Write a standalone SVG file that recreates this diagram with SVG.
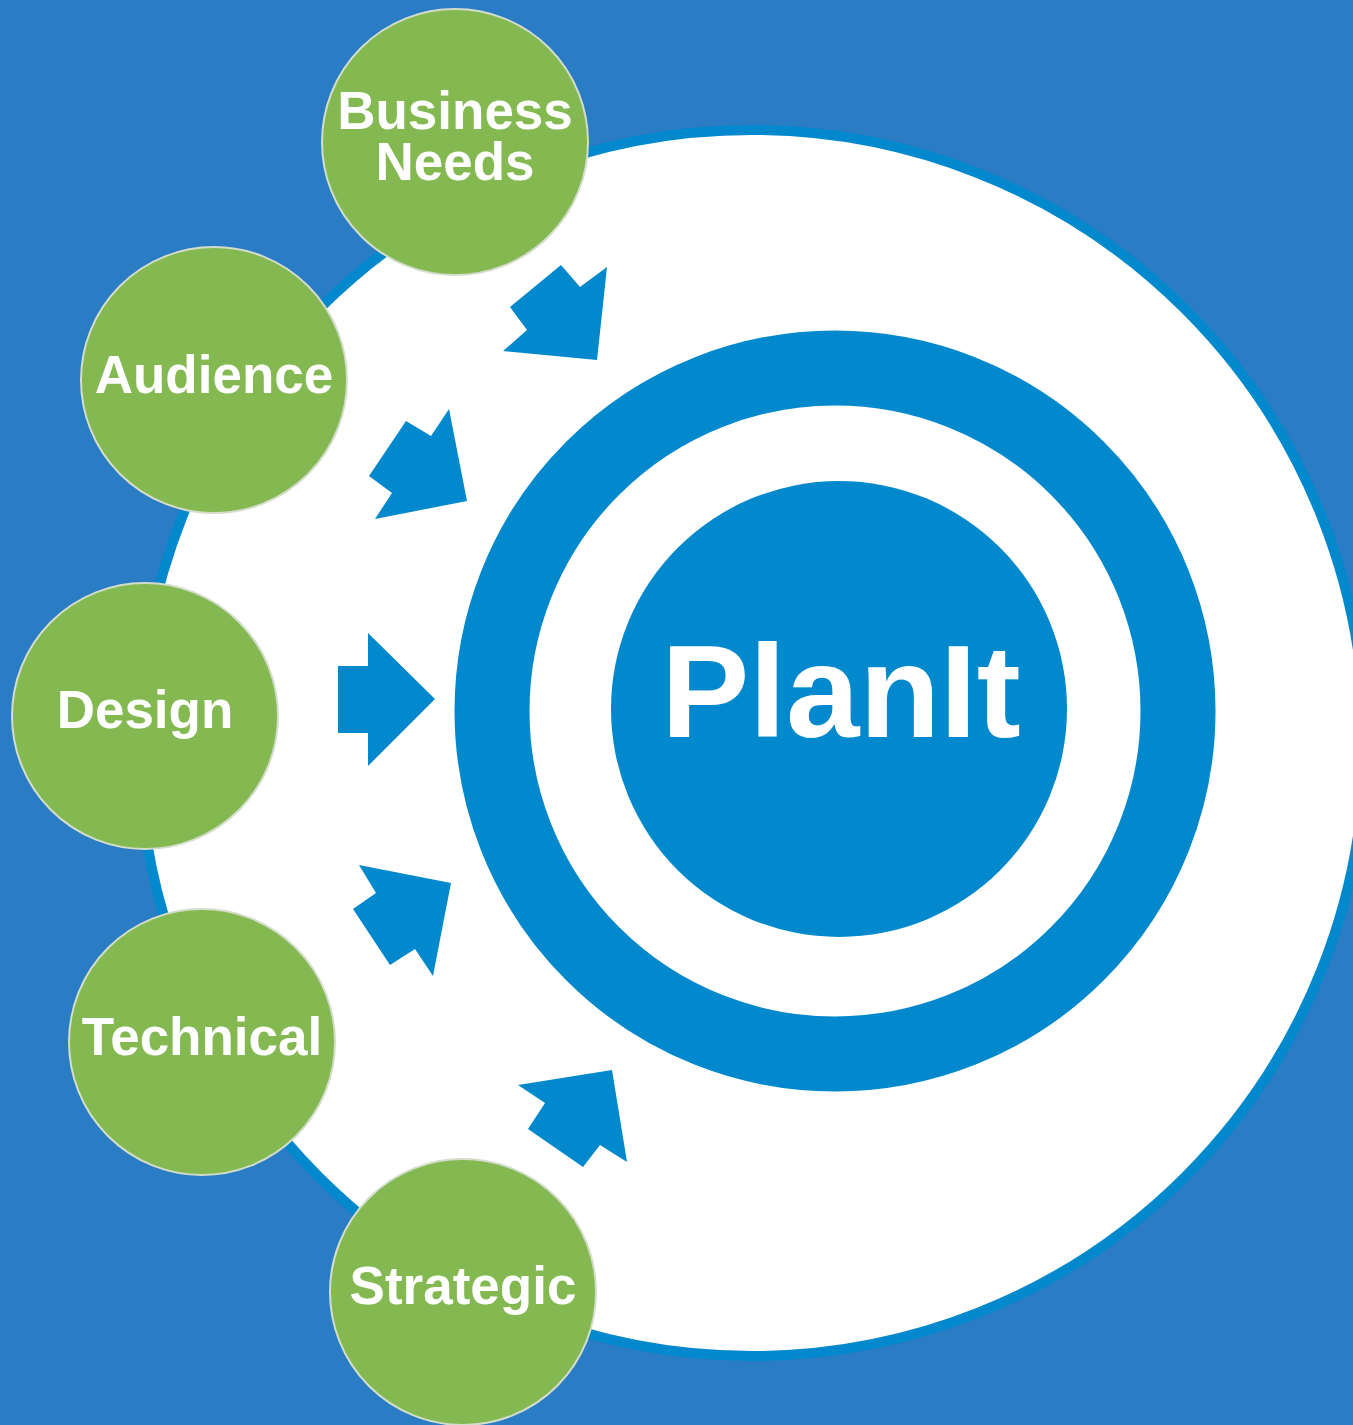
<svg xmlns="http://www.w3.org/2000/svg" width="1353" height="1425" viewBox="0 0 1353 1425">
<style>
.node circle{fill:#83b950;stroke:#d4dccb;stroke-width:2}
.lbl{font-family:"Liberation Sans",Arial,sans-serif;font-weight:bold;font-size:53px;fill:#fff;text-anchor:middle}
.arrow{fill:#0288cc}
</style>
<rect width="1353" height="1425" fill="#2a7cc4"/>
<circle cx="752" cy="743" r="613" fill="#fff" stroke="#0288cc" stroke-width="10"/>
<g id="center">
<circle cx="835" cy="711" r="343" fill="none" stroke="#0288cc" stroke-width="75"/>
<circle cx="839" cy="709" r="228" fill="#0288cc"/>
<text x="841" y="737" font-family="Liberation Sans,Arial,sans-serif" font-weight="bold" font-size="132" fill="#fff" text-anchor="middle">PlanIt</text>
</g>
<g id="connectors">
<polygon class="arrow" points="561,265 580,287 607,267 597,360 503,351 527,330 510,307"/>
<polygon class="arrow" points="406,421 431,436 449,409 467,501 375,519 392,493 369,476"/>
<polygon class="arrow" points="338,666 368,666 368,633 435,699 368,766 368,733 338,733"/>
<polygon class="arrow" points="359,865 451,883 433,976 415,949 390,965 353,909 376,893"/>
<polygon class="arrow" points="518,1085 612,1070 627,1162 600,1145 583,1167 528,1129 545,1103"/>
</g>
<g id="business-needs" class="node"><circle cx="455" cy="142" r="133"/><text class="lbl" x="455" y="129">Business</text><text class="lbl" x="455" y="180">Needs</text></g>
<g id="audience" class="node"><circle cx="214" cy="380" r="133"/><text class="lbl" x="214" y="393">Audience</text></g>
<g id="design" class="node"><circle cx="145" cy="716" r="133"/><text class="lbl" x="145" y="728">Design</text></g>
<g id="technical" class="node"><circle cx="202" cy="1042" r="133"/><text class="lbl" x="202" y="1055">Technical</text></g>
<g id="strategic" class="node"><circle cx="463" cy="1292" r="133"/><text class="lbl" x="463" y="1304">Strategic</text></g>
</svg>
